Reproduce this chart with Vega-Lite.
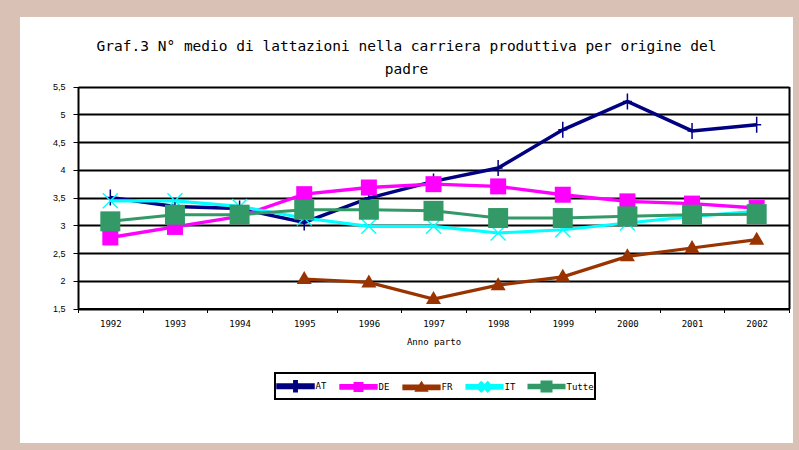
{
  "$schema": "https://vega.github.io/schema/vega-lite/v6.json",
  "autosize": {"type": "none"},
  "width": 773,
  "height": 426,
  "padding": {"left": 20, "top": 17, "right": 6, "bottom": 7},
  "background": "#d9c1b5",
  "config": {"view": {"fill": "white", "stroke": null}, "font": "DejaVu Sans Mono"},
  "title": {
    "text": ["Graf.3 N° medio di lattazioni nella carriera produttiva per origine del", "padre"],
    "anchor": "middle",
    "frame": "group",
    "offset": -60,
    "font": "DejaVu Sans Mono",
    "fontSize": 14.5,
    "fontWeight": "normal",
    "color": "black",
    "lineHeight": 23
  },
  "data": {
    "values": [
      {"anno": "1992", "serie": "AT", "valore": 3.50},
      {"anno": "1993", "serie": "AT", "valore": 3.34},
      {"anno": "1994", "serie": "AT", "valore": 3.30},
      {"anno": "1995", "serie": "AT", "valore": 3.05},
      {"anno": "1996", "serie": "AT", "valore": 3.49},
      {"anno": "1997", "serie": "AT", "valore": 3.79},
      {"anno": "1998", "serie": "AT", "valore": 4.03},
      {"anno": "1999", "serie": "AT", "valore": 4.72},
      {"anno": "2000", "serie": "AT", "valore": 5.23},
      {"anno": "2001", "serie": "AT", "valore": 4.70},
      {"anno": "2002", "serie": "AT", "valore": 4.81},
      {"anno": "1992", "serie": "DE", "valore": 2.78},
      {"anno": "1993", "serie": "DE", "valore": 2.97},
      {"anno": "1994", "serie": "DE", "valore": 3.16},
      {"anno": "1995", "serie": "DE", "valore": 3.56},
      {"anno": "1996", "serie": "DE", "valore": 3.68},
      {"anno": "1997", "serie": "DE", "valore": 3.74},
      {"anno": "1998", "serie": "DE", "valore": 3.70},
      {"anno": "1999", "serie": "DE", "valore": 3.55},
      {"anno": "2000", "serie": "DE", "valore": 3.43},
      {"anno": "2001", "serie": "DE", "valore": 3.39},
      {"anno": "2002", "serie": "DE", "valore": 3.31},
      {"anno": "1995", "serie": "FR", "valore": 2.03},
      {"anno": "1996", "serie": "FR", "valore": 1.97},
      {"anno": "1997", "serie": "FR", "valore": 1.67},
      {"anno": "1998", "serie": "FR", "valore": 1.92},
      {"anno": "1999", "serie": "FR", "valore": 2.07},
      {"anno": "2000", "serie": "FR", "valore": 2.44},
      {"anno": "2001", "serie": "FR", "valore": 2.59},
      {"anno": "2002", "serie": "FR", "valore": 2.74},
      {"anno": "1992", "serie": "IT", "valore": 3.44},
      {"anno": "1993", "serie": "IT", "valore": 3.44},
      {"anno": "1994", "serie": "IT", "valore": 3.34},
      {"anno": "1995", "serie": "IT", "valore": 3.13},
      {"anno": "1996", "serie": "IT", "valore": 2.98},
      {"anno": "1997", "serie": "IT", "valore": 2.98},
      {"anno": "1998", "serie": "IT", "valore": 2.86},
      {"anno": "1999", "serie": "IT", "valore": 2.92},
      {"anno": "2000", "serie": "IT", "valore": 3.04},
      {"anno": "2001", "serie": "IT", "valore": 3.16},
      {"anno": "2002", "serie": "IT", "valore": 3.25},
      {"anno": "1992", "serie": "Tutte", "valore": 3.07},
      {"anno": "1993", "serie": "Tutte", "valore": 3.19},
      {"anno": "1994", "serie": "Tutte", "valore": 3.19},
      {"anno": "1995", "serie": "Tutte", "valore": 3.28},
      {"anno": "1996", "serie": "Tutte", "valore": 3.28},
      {"anno": "1997", "serie": "Tutte", "valore": 3.26},
      {"anno": "1998", "serie": "Tutte", "valore": 3.13},
      {"anno": "1999", "serie": "Tutte", "valore": 3.13},
      {"anno": "2000", "serie": "Tutte", "valore": 3.16},
      {"anno": "2001", "serie": "Tutte", "valore": 3.19},
      {"anno": "2002", "serie": "Tutte", "valore": 3.20}
    ]
  },
  "encoding": {
    "x": {
      "field": "anno",
      "type": "ordinal",
      "scale": {"type": "band", "range": [58, 769], "paddingInner": 0, "paddingOuter": 0},
      "axis": {
        "offset": -134.5,
        "tickBand": "extent",
        "grid": false,
        "domainColor": "black",
        "domainWidth": 2,
        "tickColor": "black",
        "tickSize": 4,
        "tickWidth": 1,
        "labelAngle": 0,
        "labelPadding": 7,
        "labelFont": "DejaVu Sans Mono",
        "labelFontSize": 9,
        "labelColor": "black",
        "title": "Anno parto",
        "titleFont": "DejaVu Sans Mono",
        "titleFontSize": 9,
        "titleFontWeight": "normal",
        "titleColor": "black",
        "titlePadding": 9
      }
    },
    "color": {
      "field": "serie",
      "type": "nominal",
      "scale": {
        "domain": ["AT", "DE", "FR", "IT", "Tutte"],
        "range": ["#000080", "#ff00ff", "#993300", "#00ffff", "#339966"]
      },
      "legend": {
        "orient": "none",
        "legendX": 255,
        "legendY": 356,
        "direction": "horizontal",
        "columns": 5,
        "title": null,
        "padding": 1,
        "fillColor": "white",
        "strokeColor": "black",
        "symbolSize": 400,
        "symbolStrokeWidth": 0,
        "symbolOffset": 7.5,
        "labelOffset": 8,
        "columnPadding": 7,
        "labelFont": "DejaVu Sans Mono",
        "labelFontSize": 9,
        "labelColor": "black",
        "encode": {
          "legend": {"update": {"strokeWidth": {"value": 2}}},
          "symbols": {
            "update": {
              "shape": {"signal": "datum.value === 'AT' ? 'M-1.75,-0.12H1.75V0.12H-1.75Z M-0.07,-0.45H0.07V0.45H-0.07Z' : datum.value === 'DE' ? 'M-1.75,-0.12H1.75V0.12H-1.75Z M-0.33,-0.33H0.33V0.33H-0.33Z' : datum.value === 'FR' ? 'M-1.75,-0.12H1.75V0.12H-1.75Z M-0.42,0.28L0,-0.36L0.42,0.28Z' : datum.value === 'IT' ? 'M-1.75,-0.12H1.75V0.12H-1.75Z M-0.4,-0.32L-0.32,-0.4L0.4,0.32L0.32,0.4Z M0.32,-0.4L0.4,-0.32L-0.32,0.4L-0.4,0.32Z' : 'M-1.75,-0.12H1.75V0.12H-1.75Z M-0.45,-0.45H0.45V0.45H-0.45Z'"},
              "size": {"value": 400},
              "fill": {"scale": "color", "field": "value"},
              "stroke": {"value": "transparent"},
              "strokeWidth": {"value": 0},
              "opacity": {"value": 1}
            }
          }
        }
      }
    }
  },
  "layer": [
    {
      "mark": {"type": "line"},
      "encoding": {
        "y": {
          "field": "valore",
          "type": "quantitative",
          "scale": {"domain": [1.5, 5.5], "range": [291.5, 69.5], "nice": false, "zero": false},
          "axis": {
            "orient": "left",
            "offset": -58,
            "values": [1.5, 2, 2.5, 3, 3.5, 4, 4.5, 5, 5.5],
            "grid": true,
            "gridColor": "black",
            "gridWidth": 2,
            "gridOpacity": 1,
            "domainColor": "black",
            "domainWidth": 2,
            "tickColor": "black",
            "tickSize": 5,
            "tickWidth": 1,
            "labelPadding": 8,
            "labelFont": "Liberation Sans",
            "labelFontSize": 9,
            "labelColor": "black",
            "labelExpr": "replace(format(datum.value, '~g'), '.', ',')",
            "title": null
          }
        },
        "strokeWidth": {
          "field": "serie",
          "type": "nominal",
          "scale": {"domain": ["AT", "DE", "FR", "IT", "Tutte"], "range": [3.5, 3, 3, 3.5, 3]},
          "legend": null
        }
      }
    },
    {
      "transform": [{"filter": "datum.serie === 'AT'"}],
      "mark": {"type": "point", "filled": true, "size": 100, "opacity": 1, "strokeWidth": 0, "shape": "M-0.15,-1.6H0.15V1.6H-0.15Z M-0.9,-0.15H0.9V0.15H-0.9Z"},
      "encoding": {
        "y": {
          "field": "valore",
          "type": "quantitative",
          "scale": {"domain": [1.5, 5.5], "range": [291.5, 69.5], "nice": false, "zero": false},
          "axis": {
            "orient": "right",
            "offset": -4,
            "labels": false,
            "ticks": false,
            "grid": false,
            "title": null,
            "domainColor": "black",
            "domainWidth": 2
          }
        }
      }
    },
    {
      "transform": [{"filter": "datum.serie === 'DE'"}],
      "mark": {"type": "point", "filled": true, "size": 100, "opacity": 1, "strokeWidth": 0, "shape": "M-1.6,-1.6H1.6V1.6H-1.6Z"},
      "encoding": {
        "y": {"field": "valore", "type": "quantitative", "scale": {"domain": [1.5, 5.5], "range": [291.5, 69.5], "nice": false, "zero": false}, "axis": null}
      }
    },
    {
      "transform": [{"filter": "datum.serie === 'FR'"}],
      "mark": {"type": "point", "filled": true, "size": 100, "opacity": 1, "strokeWidth": 0, "shape": "M-1.5,1L0,-1.6L1.5,1Z"},
      "encoding": {
        "y": {"field": "valore", "type": "quantitative", "scale": {"domain": [1.5, 5.5], "range": [291.5, 69.5], "nice": false, "zero": false}, "axis": null}
      }
    },
    {
      "transform": [{"filter": "datum.serie === 'IT'"}],
      "mark": {"type": "point", "filled": true, "size": 100, "opacity": 1, "strokeWidth": 0, "shape": "M-1.6,-1.4L-1.4,-1.6L1.6,1.4L1.4,1.6Z M1.4,-1.6L1.6,-1.4L-1.4,1.6L-1.6,1.4Z"},
      "encoding": {
        "y": {"field": "valore", "type": "quantitative", "scale": {"domain": [1.5, 5.5], "range": [291.5, 69.5], "nice": false, "zero": false}, "axis": null}
      }
    },
    {
      "transform": [{"filter": "datum.serie === 'Tutte'"}],
      "mark": {"type": "point", "filled": true, "size": 100, "opacity": 1, "strokeWidth": 0, "shape": "M-2,-2H2V2H-2Z"},
      "encoding": {
        "y": {"field": "valore", "type": "quantitative", "scale": {"domain": [1.5, 5.5], "range": [291.5, 69.5], "nice": false, "zero": false}, "axis": null}
      }
    }
  ],
  "resolve": {"axis": {"y": "independent"}}
}
